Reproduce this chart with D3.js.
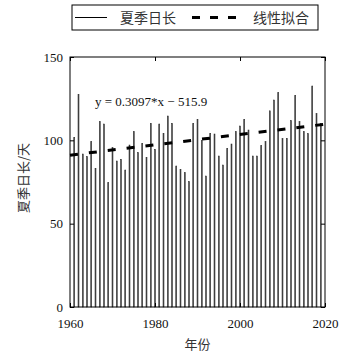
<!DOCTYPE html>
<html>
<head>
<meta charset="utf-8">
<script src="https://cdn.jsdelivr.net/npm/d3@7"></script>
<style>
  body { margin: 0; background: #fff; }
  .tick text { font-family: "Liberation Serif", serif; font-size: 13px; fill: #111; }
</style>
</head>
<body>
<div id="chart"></div>
<script>
// summer day length per year (days)
const years = d3.range(1961, 2020);
const dayLength = [
  101.8, 127.6, 91.8, 90.2, 99.2, 83.2, 111.2, 109.8, 74.6, 95.6,
  87.6, 88.6, 82.2, 97.2, 105.2, 92.6, 98.2, 89.8, 110.2, 94.6,
  109.8, 104.2, 114.6, 110.2, 84.6, 82.6, 80.6, 75.2, 110.2, 112.6,
  99.8, 78.6, 104.2, 103.8, 90.6, 85.2, 95.2, 97.8, 105.2, 108.6,
  112.6, 106.2, 90.6, 90.6, 96.8, 99.2, 117.7, 124.2, 128.6, 101.0,
  101.2, 111.8, 127.0, 111.2, 105.2, 104.0, 132.6, 116.0, 110.0
];
const fitSlope = 0.3097, fitIntercept = -515.9;
const fitYears = [1960, 2020];
const xTicks = [1960, 1980, 2000, 2020];
const yTicks = [0, 50, 100, 150];
const legendLabels = ["夏季日长", "线性拟合"];

const margin = {top: 57, right: 20, bottom: 53, left: 70},
    width = 345 - margin.left - margin.right,
    height = 360 - margin.top - margin.bottom;

const root = d3.select("#chart").append("svg")
    .attr("width", 345)
    .attr("height", 360);
const svg = root.append("g")
    .attr("transform", "translate(" + margin.left + "," + margin.top + ")");

const x = d3.scaleLinear().domain([1960, 2020]).range([0, width]);
const y = d3.scaleLinear().domain([0, 150]).range([height, 0]);

// bars (very narrow, outlined)
svg.selectAll("rect.bar")
  .data(years)
  .enter().append("rect")
    .attr("class", "bar")
    .attr("x", (d) => x(d) - 0.5)
    .attr("width", 1)
    .attr("y", (d, i) => y(dayLength[i]))
    .attr("height", (d, i) => height - y(dayLength[i]))
    .attr("fill", "#555")
    .attr("stroke", "#222")
    .attr("stroke-width", 0.5);

// linear fit
svg.append("path")
  .datum(fitYears)
  .attr("fill", "none")
  .attr("stroke", "#000")
  .attr("stroke-width", 3)
  .attr("stroke-dasharray", "8,11")
  .attr("d", d3.line()
      .x((d) => x(d))
      .y((d) => y(fitSlope * d + fitIntercept)));

svg.append("text")
  .attr("x", 25)
  .attr("y", 49)
  .style("font-family", "Liberation Serif, serif")
  .style("font-size", "13px")
  .attr("fill", "#111")
  .text("y = 0.3097*x \u2212 515.9");

// axes, ticks pointing inward
const tidy = (g) => { g.select(".domain").remove(); g.selectAll(".tick line").attr("stroke", "#000"); };
svg.append("g")
  .attr("transform", "translate(0," + height + ")")
  .call(d3.axisBottom(x).tickValues(xTicks).tickFormat(d3.format("d")).tickSizeInner(-4).tickSizeOuter(0).tickPadding(12))
  .call(tidy);
svg.append("g")
  .call(d3.axisTop(x).tickValues(xTicks).tickFormat("").tickSizeInner(-4).tickSizeOuter(0))
  .call(tidy);
svg.append("g")
  .call(d3.axisLeft(y).tickValues(yTicks).tickSizeInner(-4).tickSizeOuter(0).tickPadding(7))
  .call(tidy);
svg.append("g")
  .attr("transform", "translate(" + width + ",0)")
  .call(d3.axisRight(y).tickValues(yTicks).tickFormat("").tickSizeInner(-4).tickSizeOuter(0))
  .call(tidy);

svg.append("rect")
  .attr("width", width)
  .attr("height", height)
  .attr("fill", "none")
  .attr("stroke", "#000")
  .attr("stroke-width", 1);

// axis titles
svg.append("text")
  .attr("x", width / 2)
  .attr("y", 292)
  .attr("text-anchor", "middle")
  .style("font-family", "Noto Sans CJK SC")
  .style("font-size", "13px")
  .attr("fill", "#333")
  .text("年份");
svg.append("text")
  .attr("transform", "translate(-42," + (height / 2 - 4) + ") rotate(-90)")
  .attr("text-anchor", "middle")
  .style("font-family", "Noto Sans CJK SC")
  .style("font-size", "13px")
  .attr("fill", "#333")
  .text("夏季日长/天");

// legend
const lg = root.append("g");
lg.append("rect")
  .attr("x", 72).attr("y", 5).attr("width", 246).attr("height", 25)
  .attr("fill", "#fff").attr("stroke", "#000").attr("stroke-width", 1);
lg.append("line")
  .attr("x1", 75).attr("x2", 107).attr("y1", 17.5).attr("y2", 17.5)
  .attr("stroke", "#000").attr("stroke-width", 1);
lg.append("line")
  .attr("x1", 192).attr("x2", 236).attr("y1", 17.5).attr("y2", 17.5)
  .attr("stroke", "#000").attr("stroke-width", 3)
  .attr("stroke-dasharray", "8,10");
lg.selectAll("text.lab")
  .data(legendLabels)
  .enter().append("text")
    .attr("class", "lab")
    .attr("x", (d, i) => i === 0 ? 120 : 253)
    .attr("y", 22.5)
    .style("font-family", "Noto Sans CJK SC")
    .style("font-size", "14px")
    .attr("fill", "#333")
    .text((d) => d);
</script>
</body>
</html>
